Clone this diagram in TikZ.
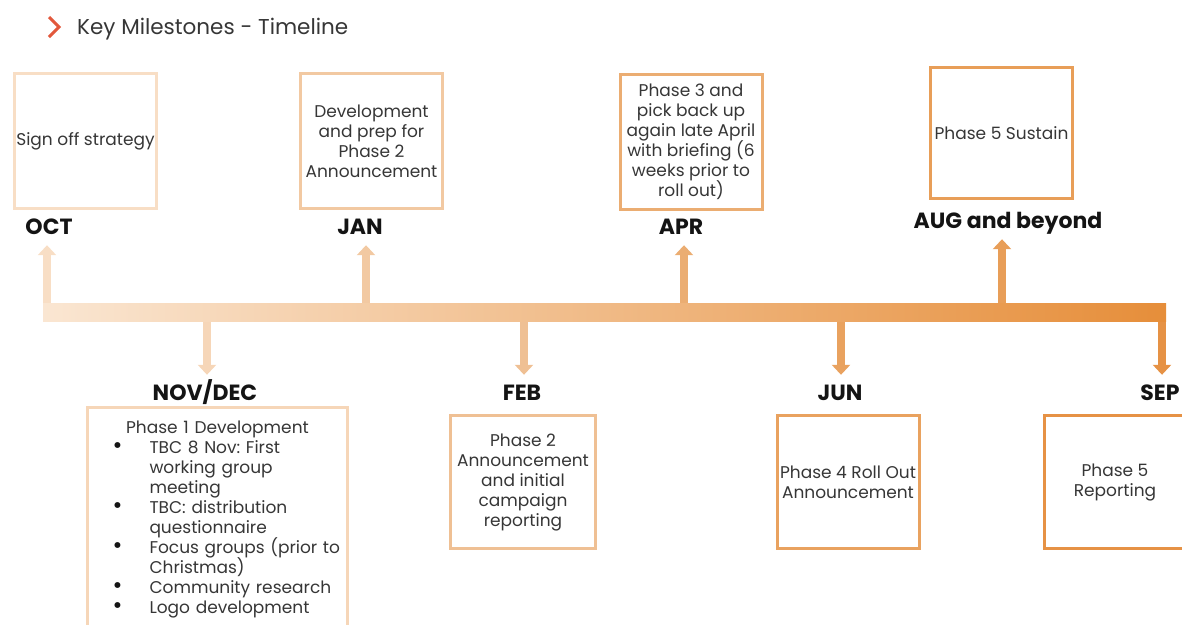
\documentclass[tikz,border=0pt]{standalone}
\usepackage{fontspec}
\setmainfont{Poppins}
\usepackage{xcolor}
\definecolor{inkgray}{HTML}{363636}
\definecolor{inkblack}{HTML}{141414}
\definecolor{chevred}{HTML}{E2583C}
\definecolor{barlight}{HTML}{FAE6D2}
\definecolor{bardark}{HTML}{E68E3A}
\definecolor{octcol}{HTML}{F8DEC5}
\definecolor{novcol}{HTML}{F6D6B8}
\definecolor{jancol}{HTML}{F2C9A2}
\definecolor{febcol}{HTML}{EFC094}
\definecolor{aprcol}{HTML}{EBAD72}
\definecolor{juncol}{HTML}{E9A25F}
\definecolor{augcol}{HTML}{E89E58}
\definecolor{sepcol}{HTML}{E69245}
\usepackage{tikz}
\usetikzlibrary{arrows.meta, positioning}
\newcommand{\boxfont}{\fontsize{17}{20}\selectfont\frenchspacing\lineskiplimit=-20pt}
\newcommand{\bigdot}{\makebox[37pt][l]{\smash{\fontsize{24}{20}\selectfont\color{inkblack}\textbullet}}}
\newcommand{\dotline}[1]{\hspace*{22pt}\bigdot#1}
\newcommand{\goonline}[1]{\hspace*{59pt}#1}

\begin{document}
\begin{tikzpicture}[x=1pt, y=-1pt,
    box/.style={rectangle, draw=#1, line width=3pt, minimum width=142pt, minimum height=135pt, align=center, font=\boxfont, text=inkgray, inner sep=2pt},
    month/.style={font=\fontsize{22}{24}\selectfont\bfseries, text=inkblack, inner sep=0pt, text height=16pt, text depth=0pt, anchor=base},
    uparr/.style={-{Triangle[width=18pt, length=10pt]}, line width=8pt, draw=#1, shorten >=11pt},
    downarr/.style={-{Triangle[width=18pt, length=10pt]}, line width=8pt, draw=#1, shorten >=9pt},
]
    \useasboundingbox (0,0) rectangle (1182,624);

    % title
    \draw[chevred, line width=3pt] (49,17) -- (59,27) -- (49,37);
    \node[anchor=base west, inner sep=0pt, font=\fontsize{21.5}{24}\selectfont, text=inkgray] (title) at (77,34) {Key Milestones - Timeline};

    % top boxes
    \node[box=octcol] (octbox) at (85.5,141) {Sign off strategy};
    \node[box=jancol] (janbox) at (371.5,141) {Development\\and prep for\\Phase 2\\Announcement};
    \node[box=aprcol] (aprbox) at (691,142) {Phase 3 and\\pick back up\\again late April\\with briefing (6\\weeks prior to\\roll out)};
    \node[box=augcol, minimum height=131pt] (augbox) at (1001.5,133) {Phase 5 Sustain};

    % bottom boxes
    \node[box=novcol, minimum width=260pt, text width=254pt, align=left, inner xsep=3pt, anchor=north, inner ysep=13pt] (novbox) at (217.5,406) {\makebox[254pt]{Phase 1 Development}\\
        \dotline{TBC 8 Nov: First}\\
        \goonline{working group}\\
        \goonline{meeting}\\
        \dotline{TBC: distribution}\\
        \goonline{questionnaire}\\
        \dotline{Focus groups (prior to}\\
        \goonline{Christmas)}\\
        \dotline{Community research}\\
        \dotline{Logo development}};
    \node[box=febcol, minimum width=145pt, minimum height=133pt] (febbox) at (523,482) {Phase 2\\Announcement\\and initial\\campaign\\reporting};
    \node[box=juncol, minimum height=133pt] (junbox) at (848,482) {Phase 4 Roll Out\\Announcement};
    \node[box=sepcol, minimum height=133pt] (sepbox) at (1115,482) {Phase 5\\Reporting};

    % months
    \node[month] (oct) at (49,234) {OCT};
    \node[month] (jan) at (360,234) {JAN};
    \node[month] (apr) at (681,234) {APR};
    \node[month] (aug) at (1008,228) {AUG and beyond};
    \node[month] (nov) at (205,400) {NOV/DEC};
    \node[month] (feb) at (522,400) {FEB};
    \node[month] (jun) at (840,400) {JUN};
    \node[month] (sep) at (1160,400) {SEP};

    % points on the timeline
    \coordinate (p-oct) at (47,312);
    \coordinate (p-nov) at (207,312);
    \coordinate (p-jan) at (366,312);
    \coordinate (p-feb) at (524,312);
    \coordinate (p-apr) at (684,312);
    \coordinate (p-jun) at (841,312);
    \coordinate (p-aug) at (1002,312);
    \coordinate (p-sep) at (1162,312);

    \draw[uparr=octcol] (p-oct) -- (p-oct |- oct.south);
    \draw[uparr=jancol] (p-jan) -- (p-jan |- jan.south);
    \draw[uparr=aprcol] (p-apr) -- (p-apr |- apr.south);
    \draw[uparr=augcol] (p-aug) -- (p-aug |- aug.south);
    \draw[downarr=novcol] (p-nov) -- (p-nov |- nov.north);
    \draw[downarr=febcol] (p-feb) -- (p-feb |- feb.north);
    \draw[downarr=juncol] (p-jun) -- (p-jun |- jun.north);
    \draw[downarr=sepcol] (p-sep) -- (p-sep |- sep.north);

    % timeline bar
    \node[rectangle, inner sep=0pt, outer sep=0pt, minimum width=1123pt, minimum height=18pt, left color=barlight, right color=bardark] (bar) at (604.5,312) {};
\end{tikzpicture}
\end{document}
